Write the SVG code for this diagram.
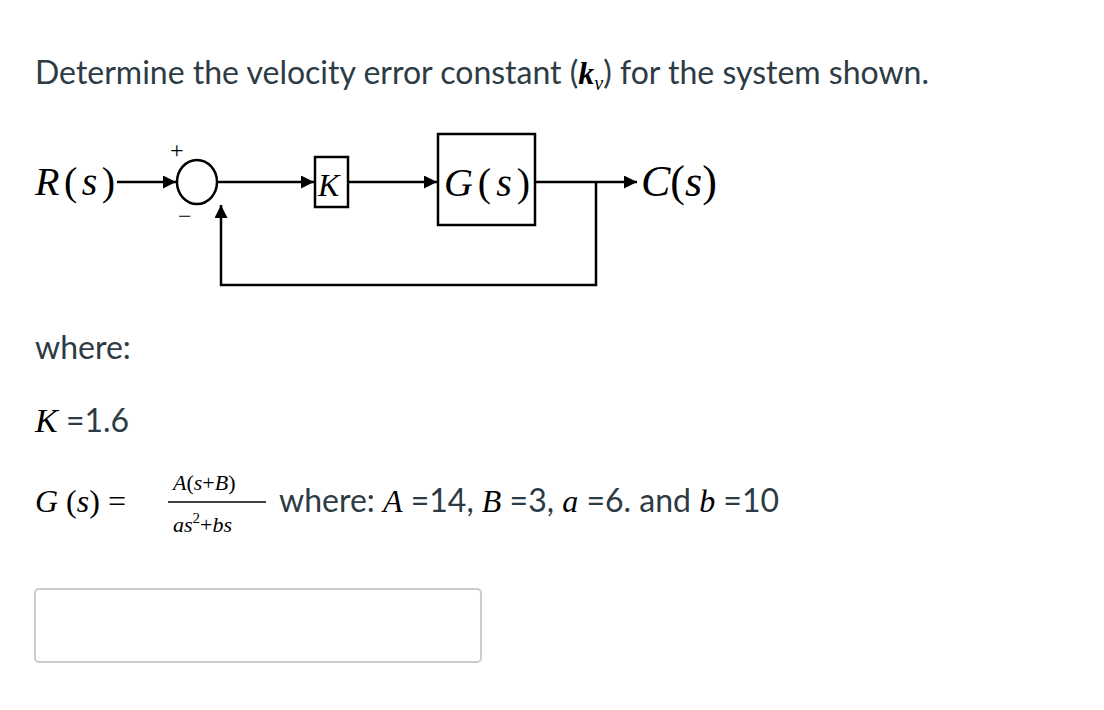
<svg xmlns="http://www.w3.org/2000/svg" width="1104" height="710" viewBox="0 0 1104 710">
<style>
.t{font-family:Lato,"Open Sans",sans-serif;fill:#2d3b45;font-size:32px}
.m{font-family:"Liberation Serif","DejaVu Serif",serif;font-style:italic;fill:#000}
.s{font-family:"Liberation Serif",serif;fill:#000}
.ln{stroke:#000;stroke-width:2.5;fill:none}
</style>
<defs><marker id="a" viewBox="0 0 10 10" refX="10" refY="5" markerWidth="14" markerHeight="13" orient="auto" markerUnits="userSpaceOnUse"><path d="M0,0L10,5L0,10z" fill="#000"/></marker></defs>
<rect width="1104" height="710" fill="#fff"/>
<text class="t" x="35" y="84">Determine the velocity error constant (<tspan class="m" font-size="32" font-weight="bold">k</tspan><tspan class="m" font-size="20" dy="6">v</tspan><tspan dy="-6">) for the system shown.</tspan></text>
<g id="R"><text class="m" x="35" y="195" font-size="40" textLength="80">R<tspan font-style="normal">(</tspan>s<tspan font-style="normal">)</tspan></text></g>
<g id="sum"><ellipse cx="197" cy="182" rx="20" ry="22" class="ln" stroke-width="2"/><text class="s" x="170" y="158" font-size="24">+</text><text class="s" x="178" y="224" font-size="24">−</text></g>
<g id="K"><rect x="315" y="157" width="33" height="50" class="ln" stroke-width="2"/><text class="m" x="318" y="196" font-size="32">K</text></g>
<g id="G"><rect x="438" y="134" width="97" height="91" class="ln" stroke-width="2"/><text class="m" x="444" y="196" font-size="40" textLength="86">G<tspan font-style="normal">(</tspan>s<tspan font-style="normal">)</tspan></text></g>
<g id="C"><text class="m" x="641" y="196" font-size="44">C<tspan font-style="normal">(</tspan>s<tspan font-style="normal">)</tspan></text></g>
<g id="connectors">
<path d="M117,182H176" class="ln" marker-end="url(#a)"/>
<path d="M217,182H314" class="ln" marker-end="url(#a)"/>
<path d="M348,182H437" class="ln" marker-end="url(#a)"/>
<path d="M535,182H637" class="ln" marker-end="url(#a)"/>
<path d="M596,182V285H221V205" class="ln" marker-end="url(#a)"/>
</g>
<text class="t" x="35" y="359">where:</text>
<text class="t" x="35" y="432"><tspan class="m" font-size="34">K</tspan> =1.6</text>
<text class="m" x="35" y="512" font-size="32">G <tspan font-style="normal">(</tspan>s<tspan font-style="normal">)  =</tspan></text>
<text class="m" x="173" y="490" font-size="22">A<tspan font-style="normal">(</tspan>s<tspan font-style="normal">+</tspan>B<tspan font-style="normal">)</tspan></text>
<line x1="168" y1="502" x2="266" y2="502" stroke="#000" stroke-width="1.5"/>
<text class="m" x="173" y="532" font-size="22">as<tspan font-style="normal" font-size="15" dy="-9">2</tspan><tspan dy="9" font-style="normal">+</tspan>bs</text>
<text class="t" x="279" y="512">where: <tspan class="m" font-size="32">A</tspan> =14, <tspan class="m" font-size="32">B</tspan> =3, <tspan class="m" font-size="32">a</tspan> =6. and <tspan class="m" font-size="32">b</tspan> =10</text>
<rect x="35" y="589" width="446" height="73" rx="4" fill="#fff" stroke="#c7cdd1" stroke-width="2"/>
</svg>
